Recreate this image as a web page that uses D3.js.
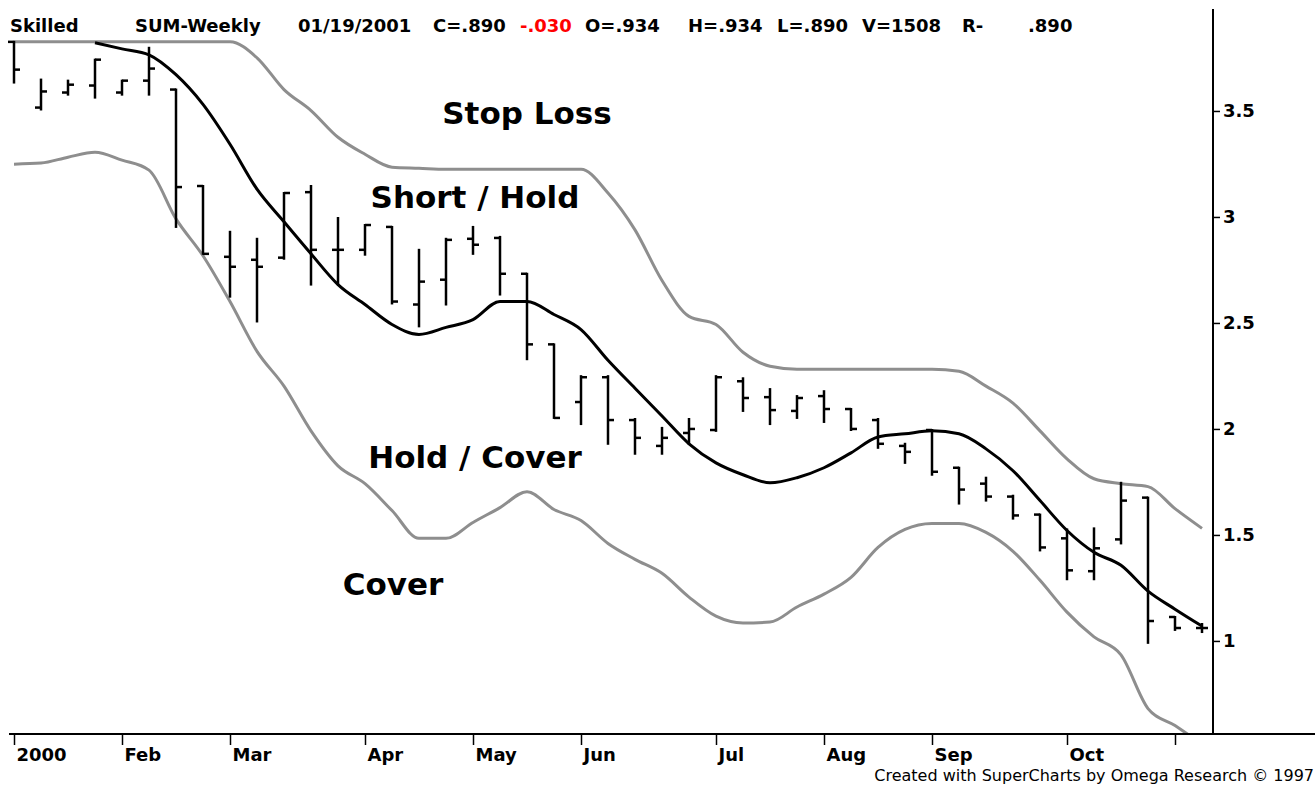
<!DOCTYPE html>
<html>
<head>
<meta charset="utf-8">
<script src="https://cdn.jsdelivr.net/npm/d3@7"></script>
<style>
  body { margin: 0; background: #fff; }
  text { font-family: "DejaVu Sans", sans-serif; }
</style>
</head>
<body>
<div id="chart"></div>
<script>
// weekly bars, Friday closes
const weeks = [
  "2000-01-07","2000-01-14","2000-01-21","2000-01-28","2000-02-04","2000-02-11","2000-02-18","2000-02-25",
  "2000-03-03","2000-03-10","2000-03-17","2000-03-24","2000-03-31","2000-04-07","2000-04-14","2000-04-21",
  "2000-04-28","2000-05-05","2000-05-12","2000-05-19","2000-05-26","2000-06-02","2000-06-09","2000-06-16",
  "2000-06-23","2000-06-30","2000-07-07","2000-07-14","2000-07-21","2000-07-28","2000-08-04","2000-08-11",
  "2000-08-18","2000-08-25","2000-09-01","2000-09-08","2000-09-15","2000-09-22","2000-09-29","2000-10-06",
  "2000-10-13","2000-10-20","2000-10-27","2000-11-03","2000-11-10"
];

const open  = [3.826,3.516,3.587,3.620,3.587,3.643,3.601,3.146,2.812,2.798,2.808,3.117,2.845,2.845,2.953,2.587,2.704,2.897,2.901,2.732,2.399,2.127,2.244,2.042,1.920,1.981,1.995,2.225,2.150,2.085,2.155,2.094,2.042,1.920,1.995,1.817,1.742,1.681,1.596,1.484,1.329,1.479,1.676,1.113,1.061];
const high  = [3.826,3.648,3.643,3.742,3.643,3.798,3.601,3.146,2.930,2.897,3.113,3.146,2.995,2.962,2.953,2.845,2.897,2.953,2.906,2.732,2.399,2.249,2.249,2.047,2.005,2.047,2.249,2.239,2.188,2.155,2.178,2.094,2.047,1.930,1.995,1.817,1.770,1.685,1.596,1.526,1.531,1.746,1.676,1.113,1.080];
const low   = [3.634,3.507,3.577,3.563,3.577,3.577,2.953,2.826,2.624,2.507,2.803,2.681,2.685,2.822,2.592,2.484,2.587,2.826,2.634,2.329,2.052,2.023,1.930,1.883,1.883,1.930,1.991,2.085,2.023,2.052,2.033,1.995,1.911,1.840,1.784,1.648,1.662,1.577,1.427,1.291,1.291,1.460,0.991,1.052,1.042];
const close = [3.695,3.592,3.624,3.742,3.643,3.700,3.141,2.826,2.765,2.765,3.113,2.845,2.845,2.962,2.601,2.695,2.892,2.869,2.732,2.399,2.052,2.244,2.042,1.958,1.958,2.000,2.244,2.146,2.089,2.146,2.094,2.000,1.930,1.892,1.798,1.714,1.681,1.592,1.441,1.333,1.437,1.662,1.094,1.061,1.061];

// moving average and the two bands around it
const average = [null,null,null,3.822,3.793,3.765,3.671,3.531,3.343,3.131,2.977,2.826,2.681,2.587,2.493,2.446,2.479,2.516,2.601,2.601,2.540,2.469,2.324,2.192,2.061,1.930,1.840,1.784,1.746,1.770,1.817,1.887,1.962,1.977,1.991,1.977,1.906,1.803,1.662,1.521,1.418,1.357,1.235,1.150,1.070];
const upperBand = [3.826,3.826,3.826,3.826,3.826,3.826,3.826,3.826,3.826,3.751,3.601,3.502,3.376,3.296,3.235,3.230,3.225,3.225,3.225,3.225,3.225,3.225,3.113,2.939,2.700,2.531,2.493,2.362,2.296,2.282,2.282,2.282,2.282,2.282,2.282,2.272,2.202,2.122,1.991,1.859,1.765,1.742,1.728,1.624,1.531];
const lowerBand = [3.249,3.254,3.282,3.305,3.268,3.221,2.991,2.817,2.601,2.366,2.202,1.991,1.826,1.742,1.615,1.484,1.484,1.559,1.629,1.704,1.620,1.568,1.460,1.385,1.319,1.207,1.117,1.085,1.089,1.160,1.221,1.300,1.441,1.526,1.554,1.554,1.512,1.423,1.286,1.136,1.019,0.934,0.681,0.601,0.512];

const yTicks = [1, 1.5, 2, 2.5, 3, 3.5];
const monthTicks = ["2000-01-07","2000-02-04","2000-03-03","2000-04-07","2000-05-05","2000-06-02","2000-07-07","2000-08-04","2000-09-01","2000-10-06","2000-11-03"];
const monthLabels = ["2000","Feb","Mar","Apr","May","Jun","Jul","Aug","Sep","Oct",""];

const header = [
  { text: "Skilled", x: 10 },
  { text: "SUM-Weekly", x: 135 },
  { text: "01/19/2001", x: 298 },
  { text: "C=.890", x: 433 },
  { text: "-.030", x: 520, color: "#ff0000" },
  { text: "O=.934", x: 585 },
  { text: "H=.934", x: 688 },
  { text: "L=.890", x: 777 },
  { text: "V=1508", x: 862 },
  { text: "R-", x: 962 },
  { text: ".890", x: 1028 }
];

const zones = [
  { text: "Stop Loss", x: 527, y: 124 },
  { text: "Short / Hold", x: 475, y: 208 },
  { text: "Hold / Cover", x: 475, y: 468 },
  { text: "Cover", x: 393, y: 595 }
];

const W = 1315, H = 785;
const plot = { left: 9, right: 1213, top: 9, bottom: 734 };
const GRAY = "#8e8e8e";

const parse = d3.timeParse("%Y-%m-%d");
const bars = weeks.map((w, i) => ({
  date: parse(w), o: open[i], h: high[i], l: low[i], c: close[i],
  avg: average[i], up: upperBand[i], dn: lowerBand[i]
}));

const x = d3.scaleTime()
  .domain([bars[0].date, bars[bars.length - 1].date])
  .range([14, 1202]);

const y = d3.scaleLinear()
  .domain([0.561, 3.981])
  .range([plot.bottom, plot.top]);

const svg = d3.select("#chart").append("svg")
  .attr("width", W)
  .attr("height", H);

svg.append("defs").append("clipPath")
  .attr("id", "plot-clip")
  .append("rect")
    .attr("x", 0)
    .attr("y", plot.top)
    .attr("width", plot.right)
    .attr("height", plot.bottom - plot.top);

// header line
svg.append("g")
  .selectAll("text")
  .data(header)
  .join("text")
    .attr("x", d => d.x)
    .attr("y", 32)
    .attr("font-size", 18)
    .attr("font-weight", "bold")
    .attr("fill", d => d.color || "#000")
    .text(d => d.text);

const chart = svg.append("g").attr("clip-path", "url(#plot-clip)");

// bands and average
const lineFor = key => d3.line()
  .defined(d => d[key] != null)
  .x(d => x(d.date))
  .y(d => y(d[key]))
  .curve(d3.curveMonotoneX);

chart.append("path")
  .datum(bars)
  .attr("d", lineFor("up"))
  .attr("fill", "none")
  .attr("stroke", GRAY)
  .attr("stroke-width", 3);

chart.append("path")
  .datum(bars)
  .attr("d", lineFor("dn"))
  .attr("fill", "none")
  .attr("stroke", GRAY)
  .attr("stroke-width", 3);

chart.append("path")
  .datum(bars)
  .attr("d", lineFor("avg"))
  .attr("fill", "none")
  .attr("stroke", "#000")
  .attr("stroke-width", 3);

// OHLC bars
const ohlc = chart.append("g")
  .attr("stroke", "#000")
  .attr("stroke-width", 2.5)
  .selectAll("g")
  .data(bars)
  .join("g")
    .attr("transform", d => `translate(${Math.round(x(d.date))},0)`);

ohlc.append("line")
  .attr("y1", d => y(d.h) - 1)
  .attr("y2", d => y(d.l) + 1);

ohlc.append("line")
  .attr("x1", -6).attr("x2", 0)
  .attr("y1", d => y(d.o)).attr("y2", d => y(d.o));

ohlc.append("line")
  .attr("x1", 0).attr("x2", 6)
  .attr("y1", d => y(d.c)).attr("y2", d => y(d.c));

// zone labels
svg.append("g")
  .selectAll("text")
  .data(zones)
  .join("text")
    .attr("x", d => d.x)
    .attr("y", d => d.y)
    .attr("text-anchor", "middle")
    .attr("font-size", 31)
    .attr("font-weight", "bold")
    .text(d => d.text);

// price axis on the right
const yAxis = svg.append("g")
  .attr("transform", `translate(${plot.right},0)`)
  .call(d3.axisRight(y).tickValues(yTicks).tickFormat(d3.format("~g")).tickSize(7).tickSizeOuter(0).tickPadding(3));

yAxis.select(".domain").remove();
yAxis.append("line")
  .attr("y1", plot.top).attr("y2", plot.bottom)
  .attr("stroke", "#000").attr("stroke-width", 2);
yAxis.selectAll(".tick line").attr("stroke-width", 1.5);
yAxis.selectAll(".tick text")
  .attr("font-size", 18)
  .attr("font-weight", "bold")
  .attr("font-family", "DejaVu Sans, sans-serif")
  .attr("fill", "#000");

// time axis
const xAxis = svg.append("g")
  .attr("transform", `translate(0,${plot.bottom})`)
  .call(d3.axisBottom(x)
    .tickValues(monthTicks.map(parse))
    .tickFormat((d, i) => monthLabels[i])
    .tickSize(11)
    .tickSizeOuter(0));

xAxis.select(".domain").remove();
xAxis.append("line")
  .attr("x1", plot.left).attr("x2", W)
  .attr("stroke", "#000").attr("stroke-width", 2);
xAxis.selectAll(".tick line").attr("stroke-width", 1.5);
xAxis.selectAll(".tick text")
  .attr("text-anchor", "start")
  .attr("x", 2)
  .attr("y", 10)
  .attr("dy", "0.95em")
  .attr("font-size", 18)
  .attr("font-weight", "bold")
  .attr("font-family", "DejaVu Sans, sans-serif")
  .attr("fill", "#000");

// credit line
svg.append("text")
  .attr("x", W - 1)
  .attr("y", 781)
  .attr("text-anchor", "end")
  .attr("font-family", "Liberation Sans, Arial, sans-serif")
  .attr("font-size", 16)
  .text("Created with SuperCharts by Omega Research \u00a9 1997");
</script>
</body>
</html>
